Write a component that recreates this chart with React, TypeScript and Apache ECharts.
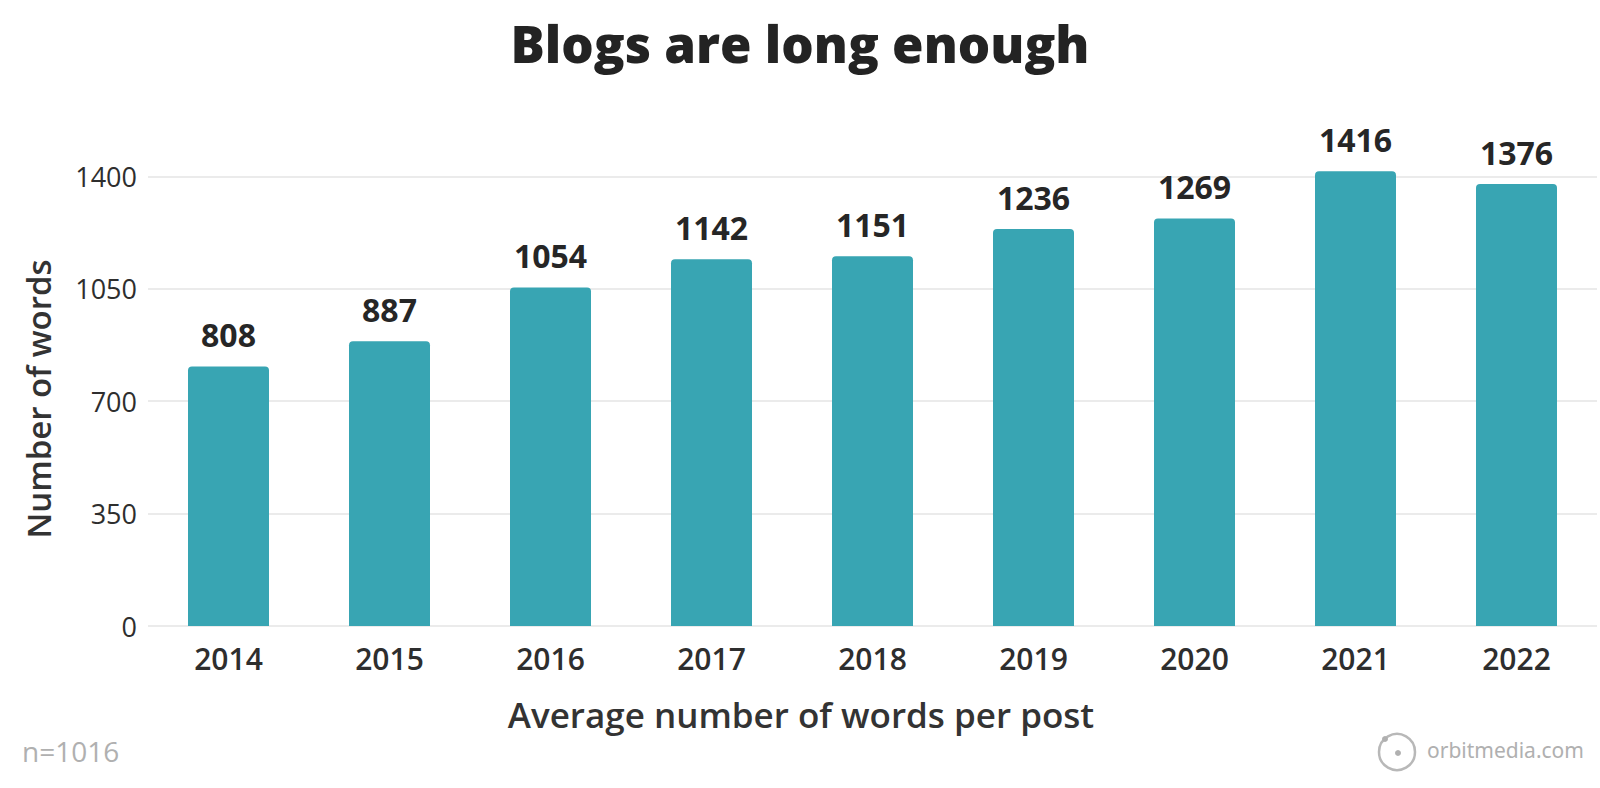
import React, { useEffect, useRef } from "react";
import * as echarts from "echarts";

const years = ["2014", "2015", "2016", "2017", "2018", "2019", "2020", "2021", "2022"];
const words = [808, 887, 1054, 1142, 1151, 1236, 1269, 1416, 1376];
const yTicks = { min: 0, max: 1750, interval: 350 };

const titleText = "Blogs are long enough";
const yName = "Number of words";
const xName = "Average number of words per post";
const sampleNote = "n=1016";
const brand = "orbitmedia.com";

export default function App() {
  const ref = useRef<HTMLDivElement>(null);
  useEffect(() => {
    document.body.style.margin = "0";
    const chart = echarts.init(ref.current!, null, { renderer: "svg" });
    const font = "'Open Sans', Lato, sans-serif";
    chart.setOption({
      animation: false,
      backgroundColor: "#ffffff",
      textStyle: { fontFamily: font },
      title: {
        text: titleText,
        left: "center",
        top: 12,
        textStyle: { fontSize: 51, fontWeight: 800, color: "#232323", fontFamily: font },
      },
      grid: { left: 148, right: 3, top: 64, bottom: 162 },
      xAxis: {
        type: "category",
        data: years,
        axisLine: { show: false },
        axisTick: { show: false },
        axisLabel: { fontSize: 30, fontWeight: 600, color: "#2e2e2e", margin: 17 },
      },
      yAxis: {
        type: "value",
        min: yTicks.min,
        max: yTicks.max,
        interval: yTicks.interval,
        axisLine: { show: false },
        axisTick: { show: false },
        axisLabel: {
          fontSize: 27,
          fontWeight: 500,
          color: "#2e2e2e",
          margin: 11,
          showMaxLabel: false,
          formatter: (v: number) => String(v),
        },
        splitLine: { show: true, showMaxLine: false, lineStyle: { color: "#e4e4e4", width: 1.5 } },
      },
      series: [
        {
          type: "bar",
          data: words,
          barWidth: 81,
          itemStyle: { color: "#38a5b3", borderRadius: [4, 4, 0, 0] },
          label: {
            show: true,
            position: "top",
            distance: 16,
            fontSize: 32,
            fontWeight: 700,
            color: "#262626",
          },
        },
      ],
      graphic: [
        {
          type: "text",
          rotation: Math.PI / 2,
          x: 38,
          y: 399,
          style: {
            text: yName,
            fontSize: 33,
            fontWeight: 600,
            fill: "#333333",
            fontFamily: font,
            align: "center",
            verticalAlign: "middle",
          },
        },
        {
          type: "text",
          x: 801,
          y: 714,
          style: {
            text: xName,
            fontSize: 35,
            fontWeight: 600,
            fill: "#333333",
            fontFamily: font,
            align: "center",
            verticalAlign: "middle",
          },
        },
        {
          type: "text",
          left: 22,
          top: 737,
          style: { text: sampleNote, fontSize: 28, fill: "#b0b0b0", fontFamily: font },
        },
        {
          type: "circle",
          shape: { cx: 1397, cy: 752, r: 18 },
          style: { fill: "none", stroke: "#b8b8b8", lineWidth: 2.5 },
        },
        {
          type: "circle",
          shape: { cx: 1398, cy: 753, r: 3 },
          style: { fill: "#b0b0b0" },
        },
        {
          type: "circle",
          shape: { cx: 1385, cy: 739, r: 3 },
          style: { fill: "#b0b0b0" },
        },
        {
          type: "text",
          left: 1427,
          top: 739,
          style: { text: brand, fontSize: 21, fill: "#b0b0b0", fontFamily: "'Noto Sans', sans-serif" },
        },
      ],
    });
    return () => chart.dispose();
  }, []);
  return <div ref={ref} style={{ width: 1600, height: 788 }} />;
}
